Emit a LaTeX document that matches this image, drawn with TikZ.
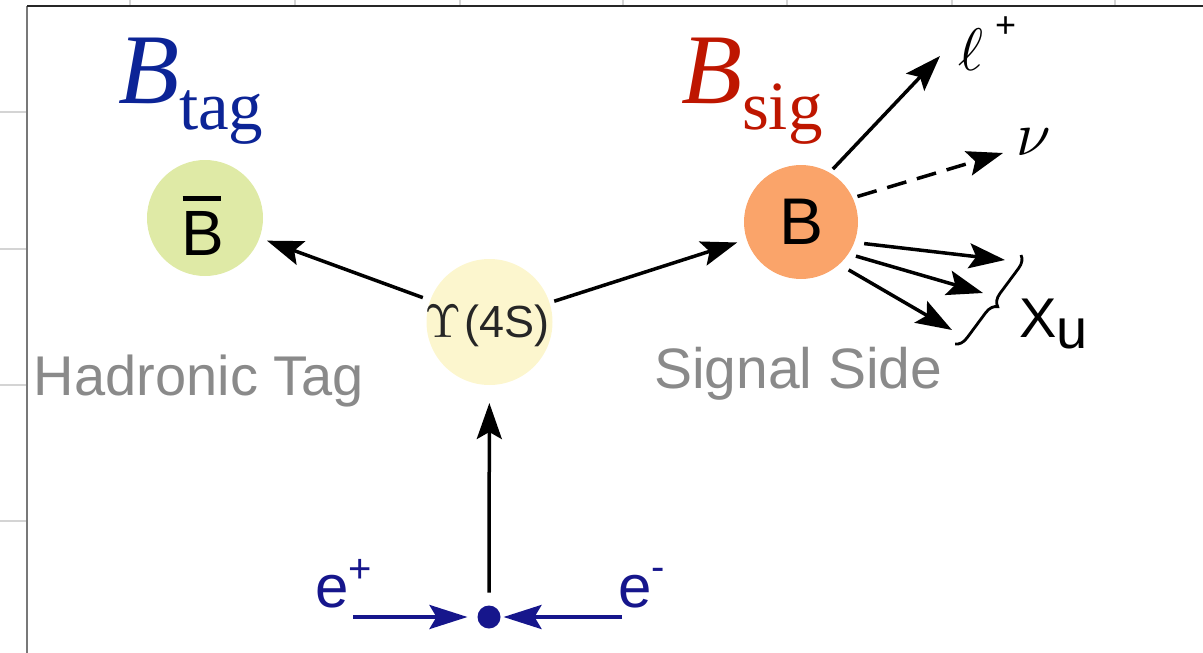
\documentclass[tikz,border=0pt]{standalone}
\usepackage{graphicx}
\usepackage{fontspec}
\setmainfont{Liberation Sans}
\newfontfamily\timesfont{Liberation Serif}
\usetikzlibrary{arrows.meta,decorations.pathreplacing}
\definecolor{tagblue}{RGB}{12,36,150}
\definecolor{sigred}{RGB}{190,22,0}
\definecolor{bbargreen}{RGB}{223,234,166}
\definecolor{upsyellow}{RGB}{252,246,206}
\definecolor{borange}{RGB}{250,164,106}
\definecolor{labelgray}{RGB}{138,138,138}
\definecolor{beamblue}{RGB}{22,22,140}
\definecolor{gridgray}{RGB}{212,212,212}
\definecolor{framegray}{RGB}{120,120,120}
\begin{document}
\begin{tikzpicture}[x=1pt,y=-1pt,
  particle/.style={circle,inner sep=0pt,outer sep=0pt},
  txt/.style={inner sep=0pt,outer sep=0pt},
  arr/.style={line width=3.5pt,-{Stealth[length=36pt,width=25pt,inset=7pt]}},
  beamarr/.style={beamblue,line width=4pt,-{Stealth[length=38pt,width=24pt,inset=7pt]}},
  dasharr/.style={arr,dash pattern=on 20pt off 11pt},
  gridline/.style={gridgray,line width=1.2pt},
  xubrace/.style={line width=2.8pt,decorate,decoration={brace,amplitude=12pt}}
]
\useasboundingbox (0,0) rectangle (1203,653);
% background grid and frame
\foreach \gx in {130,295,460,623,787,952,1115} \draw[gridline] (\gx,0) -- (\gx,6);
\foreach \gy in {112,249,385,521} \draw[gridline] (0,\gy) -- (27,\gy);
\draw[framegray,line width=1.6pt] (27,653) -- (27,6);
\draw[black!85,line width=1.6pt] (27,6) -- (1203,6);

% particles
\node[particle,fill=bbargreen,minimum size=116pt] (bbar) at (205,218) {};
\node[particle,fill=upsyellow,minimum size=126pt] (ups) at (489.5,322) {};
\node[particle,fill=borange,minimum size=114pt] (b) at (801,222) {};
\node[particle,fill=beamblue,minimum size=23pt] (dot) at (489,617) {};

% particle labels
\node[txt,text=black] (bbarlbl) at (203,225.5) {\fontsize{64}{64}\selectfont\setbox0\hbox{B}\rlap{\hspace{1pt}\raisebox{\dimexpr\ht0+10pt\relax}{\rule{\dimexpr\wd0-4pt\relax}{5pt}}}\box0};
\node[txt,text=black] (blbl) at (802,222) {\fontsize{66}{66}\selectfont B};
\node[txt,text=black!85] (upslbl) at (487,326) {{\normalsize\scalebox{4.7}{$\Upsilon$}}\hspace{3pt}{\fontsize{45}{45}\selectfont(4S)}};

% titles
\node[txt,anchor=base west,text=tagblue] (btag) at (118,103) {\timesfont\fontsize{100}{100}\selectfont\textit{B}\raisebox{-26pt}{\fontsize{69}{69}\selectfont tag}};
\node[txt,anchor=base west,text=sigred] (bsig) at (681,103) {\timesfont\fontsize{100}{100}\selectfont\textit{B}\raisebox{-26pt}{\fontsize{69}{69}\selectfont sig}};

% side labels
\node[txt,anchor=base west,text=labelgray] (hadtag) at (34,395) {\fontsize{56}{56}\selectfont Hadronic Tag};
\node[txt,anchor=base west,text=labelgray] (sigside) at (654,388) {\fontsize{57}{57}\selectfont Signal Side};

% beam labels
\node[txt,anchor=base west,text=beamblue] (eplus) at (315,607) {\fontsize{60}{60}\selectfont e\raisebox{25pt}{\fontsize{40}{40}\selectfont +}};
\node[txt,anchor=base west,text=beamblue] (eminus) at (618,607) {\fontsize{60}{60}\selectfont e\raisebox{27pt}{\fontsize{40}{40}\selectfont -}};

% decay product labels
\node[txt,anchor=base west] (ell) at (958,70) {\normalsize\scalebox{6}{$\ell$}\hspace{12pt}\raisebox{33pt}{\fontsize{36}{36}\selectfont +}};
\node[txt,anchor=base west] (nu) at (1016,155) {\normalsize\scalebox{6.2}{$\nu$}};
\node[txt,anchor=base west] (xu) at (1019,337) {\fontsize{56}{56}\selectfont X\raisebox{-11pt}{u}};

% free ends
\coordinate (ltip) at (940,56);
\coordinate (nutip) at (1003,153);
\coordinate (x1tip) at (1005,260);
\coordinate (x2tip) at (983,293);
\coordinate (x3tip) at (952,330);
\coordinate (epstart) at (353,617);
\coordinate (emstart) at (622,617);
\coordinate (brtop) at (1021,255);
\coordinate (brbot) at (955,344);

% connectors
\draw[arr,shorten <=8pt,shorten >=8pt] (ups) -- (bbar);
\draw[arr,shorten <=5pt,shorten >=10pt] (ups) -- (b);
\draw[arr,shorten <=13pt,shorten >=18pt] (dot) -- (ups);
\draw[beamarr,shorten >=10pt] (epstart) -- (dot);
\draw[beamarr,shorten >=3pt] (emstart) -- (dot);

\draw[arr,shorten <=5pt] (b.60) -- (ltip);
\draw[dasharr,shorten <=5pt] (b.25) -- (nutip);
\draw[arr,shorten <=10pt] (b.-21) -- (x1tip);
\draw[arr,shorten <=8pt] (b.-34) -- (x2tip);
\draw[arr,shorten <=11pt] (b.-48) -- (x3tip);
\draw[xubrace] (brtop) -- (brbot);
\end{tikzpicture}
\end{document}
